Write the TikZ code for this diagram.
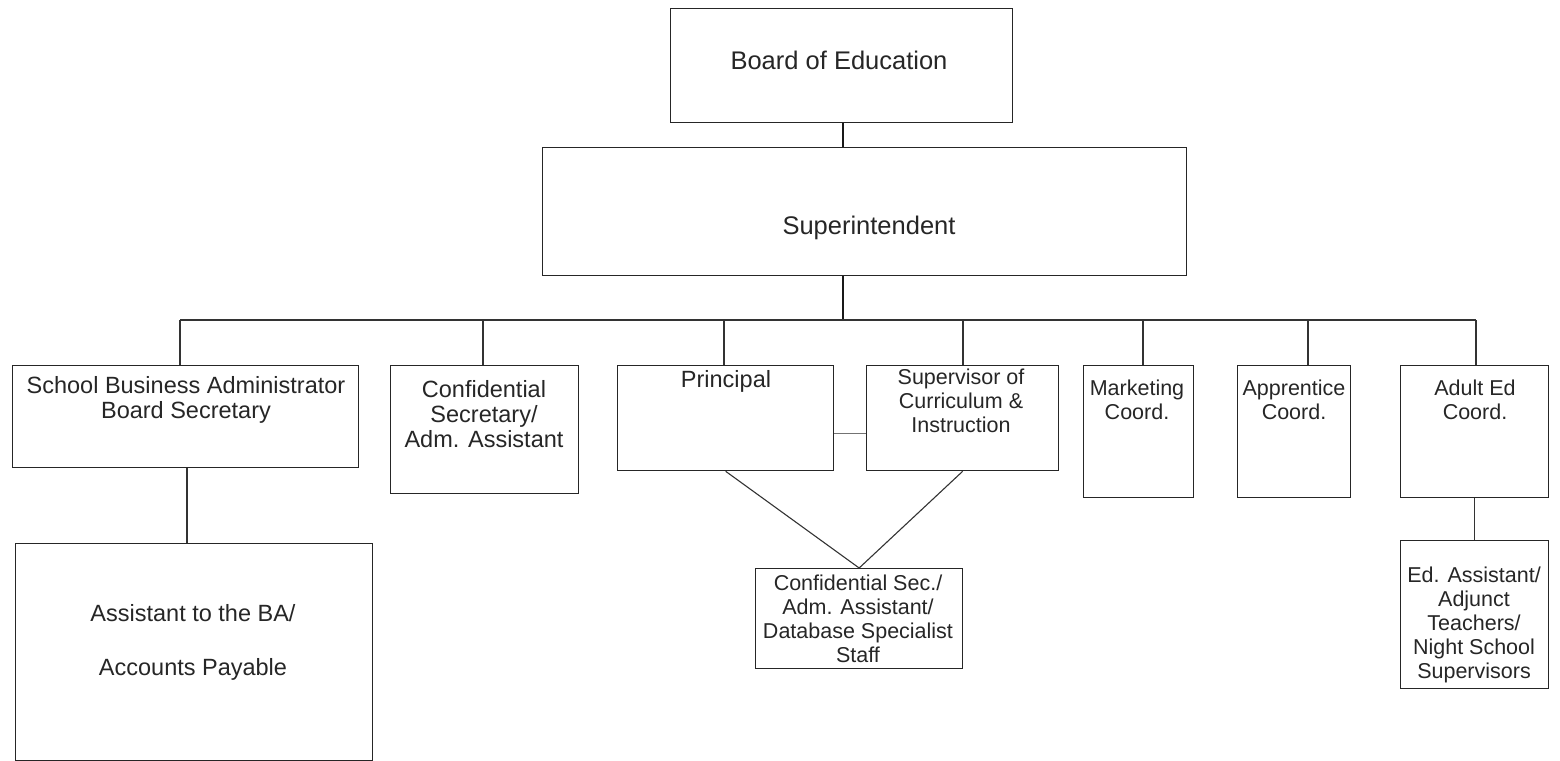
\documentclass[tikz,border=0pt]{standalone}
\usepackage{fontspec}
\setmainfont{Liberation Sans}
\begin{document}
\begin{tikzpicture}[x=1pt,y=-1pt,
  box/.style={draw=black!85, line width=1.3pt, inner sep=0pt, anchor=north west},
  txt/.style={align=center, font=\fontsize{23.5}{25}\selectfont, text=black!85, inner sep=0pt},
  bigtxt/.style={txt, font=\fontsize{25.5}{27}\selectfont},
  smalltxt/.style={txt, font=\fontsize{21.5}{24}\selectfont},
  conn/.style={draw=black!80, line width=1.1pt},
  thickconn/.style={draw=black!90, line width=2.4pt},
  linkconn/.style={draw=black!55, line width=0.9pt}]
\useasboundingbox (0,0) rectangle (1560,760);
% boxes
\node[box, minimum width=342pt, minimum height=114pt] (board) at (670,8) {};
\node[box, minimum width=644pt, minimum height=128pt] (super) at (542,147) {};
\node[box, minimum width=346pt, minimum height=102pt] (sba) at (12,365) {};
\node[box, minimum width=188pt, minimum height=128pt] (conf) at (390,365) {};
\node[box, minimum width=216pt, minimum height=105pt] (prin) at (617,365) {};
\node[box, minimum width=192pt, minimum height=105pt] (sup) at (866,365) {};
\node[box, minimum width=110pt, minimum height=132pt] (mkt) at (1083,365) {};
\node[box, minimum width=113pt, minimum height=132pt] (app) at (1237,365) {};
\node[box, minimum width=148pt, minimum height=132pt] (adult) at (1400,365) {};
\node[box, minimum width=357pt, minimum height=217pt] (aba) at (15,543) {};
\node[box, minimum width=207pt, minimum height=100pt] (csec) at (755,568) {};
\node[box, minimum width=148pt, minimum height=148pt] (edas) at (1400,540) {};
% texts
\node[bigtxt] (tboard) at (839,60) {Board of Education};
\node[bigtxt] (tsuper) at (869,228) {Superintendent};
\node[txt] (tsba) at (186,400) {School Business Administrator\\Board Secretary};
\node[txt] (tconf) at (484,414) {Confidential\\Secretary/\\Adm. Assistant};
\node[txt] (tprin) at (726,381) {Principal};
\node[smalltxt] (tsup) at (961,401) {Supervisor of\\Curriculum \&\\Instruction};
\node[smalltxt] (tmkt) at (1137,400) {Marketing\\Coord.};
\node[smalltxt] (tapp) at (1294,400) {Apprentice\\Coord.};
\node[smalltxt] (tadult) at (1475,400) {Adult Ed\\Coord.};
\node[txt] (taba1) at (193,613) {Assistant to the BA/};
\node[txt] (taba2) at (193,669) {Accounts Payable};
\node[smalltxt] (tcsec) at (858,619) {Confidential Sec./\\Adm. Assistant/\\Database Specialist\\Staff};
\node[smalltxt] (tedas) at (1474,625) {Ed. Assistant/\\Adjunct\\Teachers/\\Night School\\Supervisors};
% connector coordinates
\coordinate (hub) at (843,320);
\coordinate (d1) at (180,320);
\coordinate (d2) at (483,320);
\coordinate (d3) at (724,320);
\coordinate (d4) at (963,320);
\coordinate (d5) at (1143,320);
\coordinate (d6) at (1308,320);
\coordinate (d7) at (1476,320);
\coordinate (sbadown) at (187,0);
\coordinate (linky) at (0,433);
% connectors
\draw[thickconn] (hub |- board.south) -- (hub |- super.north);
\draw[thickconn] (hub |- super.south) -- (hub);
\draw[conn] (d1) -- (d7);
\draw[conn] (d1) -- (d1 |- sba.north);
\draw[conn] (d2) -- (d2 |- conf.north);
\draw[conn] (d3) -- (d3 |- prin.north);
\draw[conn] (d4) -- (d4 |- sup.north);
\draw[conn] (d5) -- (d5 |- mkt.north);
\draw[conn] (d6) -- (d6 |- app.north);
\draw[conn] (d7) -- (d7 |- adult.north);
\draw[linkconn] (prin.east |- linky) -- (sup.west |- linky);
\draw[conn] (sbadown |- sba.south) -- (sbadown |- aba.north);
\draw[conn] (prin.south) -- (csec.north);
\draw[conn] (sup.south) -- (csec.north);
\draw[conn] (adult.south) -- (edas.north);
\end{tikzpicture}
\end{document}
